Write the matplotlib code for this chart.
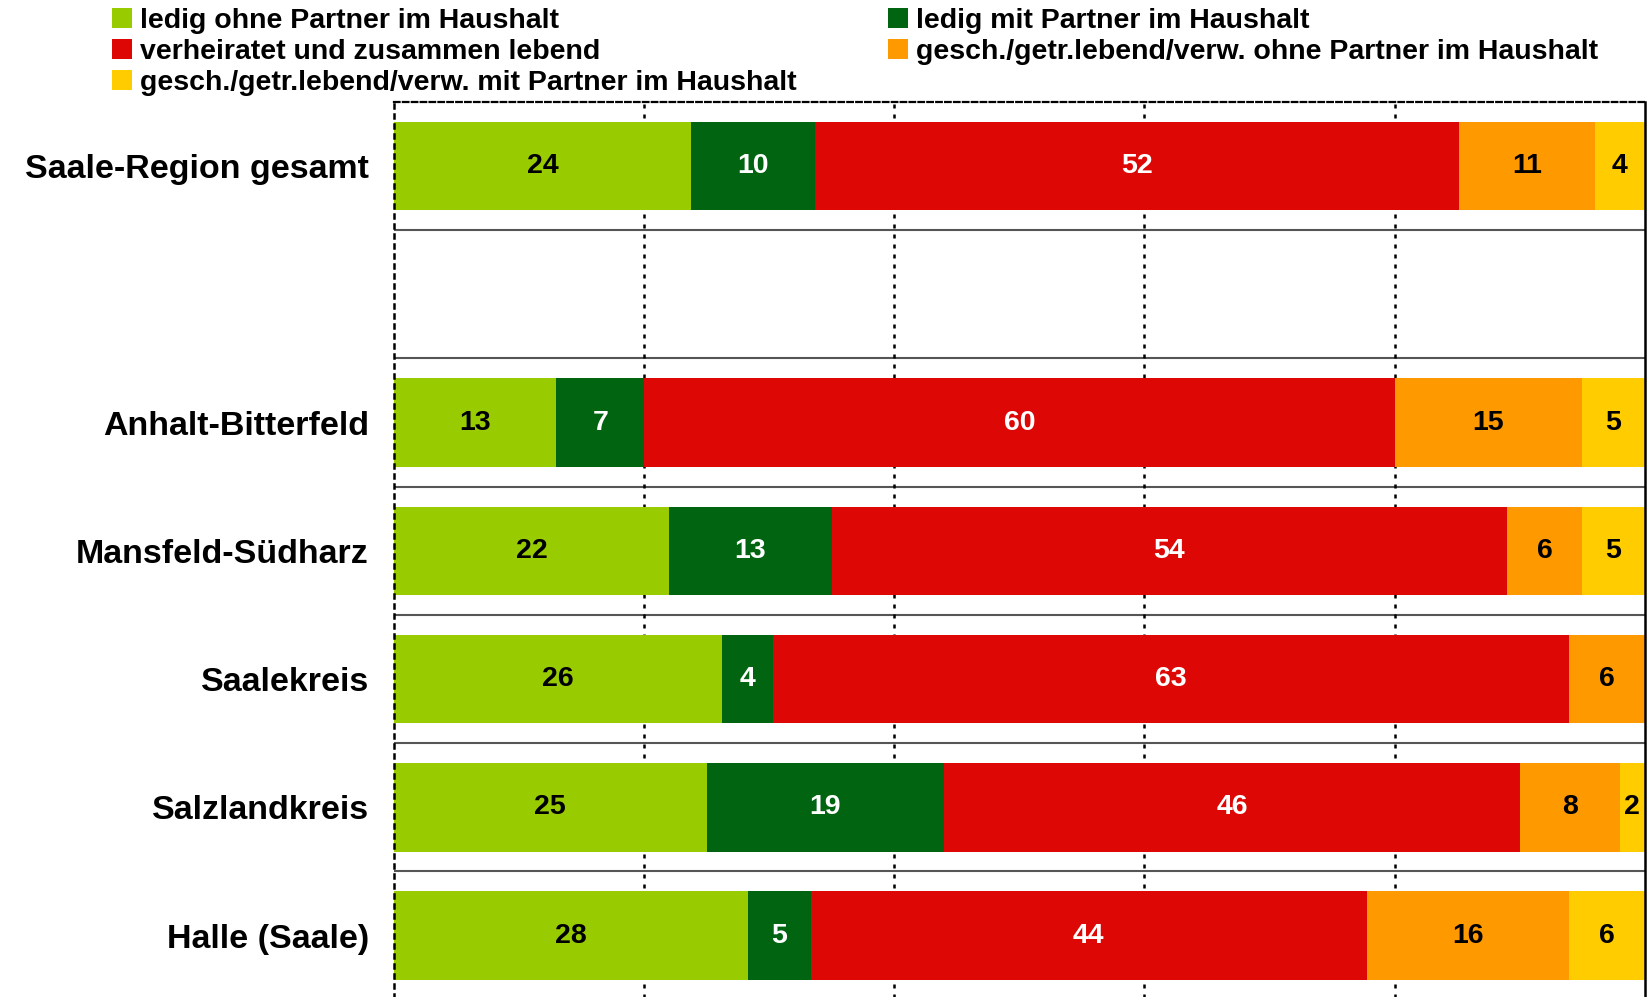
import matplotlib.pyplot as plt
from matplotlib.patches import Patch

plt.rcParams['font.family'] = ['Liberation Sans', 'DejaVu Sans']
plt.rcParams['font.weight'] = 'bold'

regions = ['Saale-Region gesamt', 'Anhalt-Bitterfeld', 'Mansfeld-Südharz',
           'Saalekreis', 'Salzlandkreis', 'Halle (Saale)']
series = ['ledig ohne Partner im Haushalt',
          'ledig mit Partner im Haushalt',
          'verheiratet und zusammen lebend',
          'gesch./getr.lebend/verw. ohne Partner im Haushalt',
          'gesch./getr.lebend/verw. mit Partner im Haushalt']
ledig_ohne = [24, 13, 22, 26, 25, 28]
ledig_mit = [10, 7, 13, 4, 19, 5]
verheiratet = [52, 60, 54, 63, 46, 44]
gesch_ohne = [11, 15, 6, 6, 8, 16]
gesch_mit = [4, 5, 5, 0, 2, 6]

colors = ['#99cc00', '#006411', '#dd0806', '#ff9900', '#ffcc00']
text_colors = ['black', 'white', 'white', 'black', 'black']

# row 1 stays empty as a gap after the total
ypos = [0, 2, 3, 4, 5, 6]

data = [ledig_ohne, ledig_mit, verheiratet, gesch_ohne, gesch_mit]
totals = [sum(col) for col in zip(*data)]

fig = plt.figure(figsize=(16.48, 9.97), dpi=100)
ax = fig.add_axes([0.239, -0.0027, 0.759, 0.9004])

left = [0.0] * len(regions)
for vals, c, tc in zip(data, colors, text_colors):
    pct = [v / t * 100 for v, t in zip(vals, totals)]
    bars = ax.barh(ypos, pct, left=left, height=0.69, color=c, zorder=2)
    for b, v in zip(bars, vals):
        if v > 0:
            ax.text(b.get_x() + b.get_width() / 2, b.get_y() + b.get_height() / 2,
                    str(v), ha='center', va='center', color=tc,
                    fontsize=20.5, fontweight='bold', zorder=3)
    left = [l + p for l, p in zip(left, pct)]

ax.set_xlim(0, 100)
ax.set_ylim(6.5, -0.5)
ax.set_yticks(ypos)
ax.set_yticklabels(regions, fontsize=24.5, fontweight='bold')
ax.tick_params(axis='y', length=0, pad=18)
ax.tick_params(axis='x', length=0, labelbottom=False)
ax.set_xticks([20, 40, 60, 80])
ax.grid(axis='x', color='black', linewidth=1.8, linestyle=(0, (1.6, 2.4)), zorder=1)

# separators between rows
for y in [0.5, 1.5, 2.5, 3.5, 4.5, 5.5]:
    ax.axhline(y, color='#555555', linewidth=1.5, zorder=1)

ax.spines['bottom'].set_visible(False)
ax.spines['top'].set_linestyle((0, (2.5, 1.5)))
ax.spines['top'].set_linewidth(1.6)
ax.spines['left'].set_linestyle((0, (1.6, 2.4)))
ax.spines['left'].set_linewidth(1.8)
ax.spines['right'].set_linestyle((0, (1.5, 1.0)))
ax.spines['right'].set_linewidth(1.8)

handles = [Patch(facecolor=c, edgecolor='none') for c in colors]
common = dict(loc='upper left', frameon=False, borderpad=0,
              borderaxespad=0, handlelength=0.7, handleheight=0.7,
              handletextpad=0.3, labelspacing=0.17,
              prop={'weight': 'bold', 'size': 20.5})
fig.legend([handles[i] for i in [0, 2, 4]], [series[i] for i in [0, 2, 4]],
           bbox_to_anchor=(112 / 1648, 1 - 8 / 997), **common)
fig.legend([handles[i] for i in [1, 3]], [series[i] for i in [1, 3]],
           bbox_to_anchor=(888 / 1648, 1 - 8 / 997), **common)

fig.savefig('out.png', dpi=100)
